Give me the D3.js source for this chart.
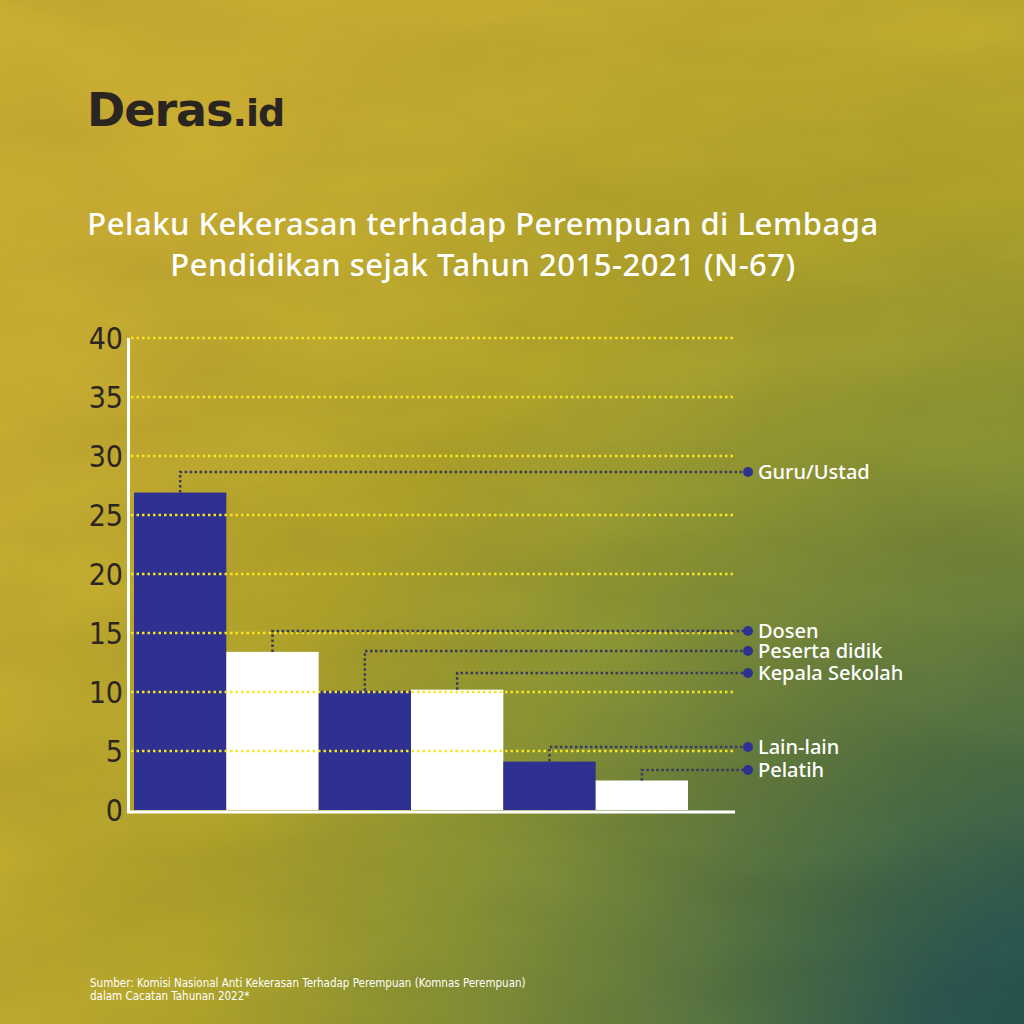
<!DOCTYPE html>
<html>
<head>
<meta charset="utf-8">
<script src="https://cdn.jsdelivr.net/npm/d3@7"></script>
<style>
  body { margin: 0; padding: 0; }
  svg { display: block; }
</style>
</head>
<body>
<script>
'use strict';

// chart data
const categories = ["Guru/Ustad", "Dosen", "Peserta didik", "Kepala Sekolah", "Lain-lain", "Pelatih"];
const values = [26.9, 13.4, 10.1, 10.2, 4.1, 2.5];
const barColors = ["#2e3190", "#ffffff", "#2e3190", "#ffffff", "#2e3190", "#ffffff"];
const labelY = [472, 631, 651, 673, 747, 770]; // leader label rows
const yTicks = [0, 5, 10, 15, 20, 25, 30, 35, 40];

const titleLines = [
  "Pelaku Kekerasan terhadap Perempuan di Lembaga",
  "Pendidikan sejak Tahun 2015-2021 (N-67)"
];
const sourceLines = [
  "Sumber: Komisi Nasional Anti Kekerasan Terhadap Perempuan (Komnas Perempuan)",
  "dalam Cacatan Tahunan 2022*"
];

const font = "'Noto Sans', 'Open Sans', sans-serif";
const narrow = "'DejaVu Sans Condensed', 'DejaVu Sans', sans-serif";

const svg = d3.select('body')
  .append('svg')
  .attr('width', 1024)
  .attr('height', 1024);

// background: yellow paper turning teal toward the lower right
const defs = svg.append('defs');
const grad = defs.append('radialGradient')
  .attr('id', 'bg')
  .attr('gradientUnits', 'userSpaceOnUse')
  .attr('cx', 1070).attr('cy', 1070).attr('r', 1250);
[["0", "#23504f"], ["0.12", "#2e5a52"], ["0.3", "#5b7842"], ["0.5", "#8d9736"], ["0.7", "#b6a92c"], ["1", "#d0b334"]]
  .forEach(s => grad.append('stop').attr('offset', s[0]).attr('stop-color', s[1]));

const filt = defs.append('filter').attr('id', 'paper');
filt.append('feTurbulence')
  .attr('type', 'fractalNoise')
  .attr('baseFrequency', '0.004 0.012')
  .attr('numOctaves', 4)
  .attr('seed', 7);
filt.append('feColorMatrix')
  .attr('values', '0 0 0 0 0  0 0 0 0 0  0 0 0 0 0  0 0 0 0.1 0');

svg.append('rect').attr('width', 1024).attr('height', 1024).attr('fill', 'url(#bg)');
svg.append('rect').attr('width', 1024).attr('height', 1024).attr('filter', 'url(#paper)');

// logo
const logo = svg.append('text')
  .attr('x', 87)
  .attr('y', 126)
  .style('font-family', "'DejaVu Sans', sans-serif")
  .style('font-weight', 'bold')
  .style('font-size', '46px')
  .style('letter-spacing', '-1px')
  .attr('fill', '#2b2522');
logo.append('tspan').text('Deras');
logo.append('tspan').style('font-size', '38px').text('.id');

// title
svg.selectAll('.title')
  .data(titleLines)
  .enter()
  .append('text')
  .attr('class', 'title')
  .attr('x', 483)
  .attr('y', (d, i) => 235 + i * 41)
  .attr('text-anchor', 'middle')
  .style('font-family', font)
  .style('font-weight', 500)
  .style('font-size', '31px')
  .style('letter-spacing', '0.5px')
  .attr('fill', '#ffffff')
  .text(d => d);

// scales
const x = d3.scaleBand()
  .domain(categories)
  .range([134, 688])
  .padding(0);

const y = d3.scaleLinear()
  .domain([0, 40])
  .range([810, 338]);

// bars
svg.selectAll('.bar')
  .data(categories)
  .enter()
  .append('rect')
  .attr('class', 'bar')
  .attr('x', d => x(d))
  .attr('y', (d, i) => y(values[i]))
  .attr('width', x.bandwidth())
  .attr('height', (d, i) => y(0) - y(values[i]))
  .attr('fill', (d, i) => barColors[i]);

// dotted gridlines drawn over the bars
svg.selectAll('.grid')
  .data(yTicks.filter(t => t > 0))
  .enter()
  .append('line')
  .attr('class', 'grid')
  .attr('x1', 131)
  .attr('x2', 735)
  .attr('y1', d => y(d))
  .attr('y2', d => y(d))
  .attr('stroke', '#f7e620')
  .attr('stroke-width', 2.5)
  .attr('stroke-dasharray', '2.5 3');

// y axis labels
const yAxis = d3.axisLeft(y).tickValues(yTicks).tickSize(0).tickPadding(0);
const yg = svg.append('g')
  .attr('transform', 'translate(123, 0)')
  .call(yAxis);
yg.select('.domain').remove();
yg.selectAll('text')
  .style('font-family', narrow)
  .style('font-size', '30px')
  .attr('fill', '#2d2620')
  .attr('dy', '0.36em');

// axis lines
svg.append('line')
  .attr('x1', 128.5).attr('x2', 128.5)
  .attr('y1', y(40)).attr('y2', 813)
  .attr('stroke', '#ffffff').attr('stroke-width', 3);
svg.append('line')
  .attr('x1', 127).attr('x2', 735)
  .attr('y1', 812).attr('y2', 812)
  .attr('stroke', '#ffffff').attr('stroke-width', 3);

// leader lines and labels
const leaders = svg.append('g');
categories.forEach((c, i) => {
  const cx = x(c) + x.bandwidth() / 2;
  const top = y(values[i]);
  leaders.append('path')
    .attr('d', `M${cx},${top}V${labelY[i]}H744`)
    .attr('fill', 'none')
    .attr('stroke', '#3a3a5c')
    .attr('stroke-width', 2.5)
    .attr('stroke-dasharray', '2.5 2.5');
  leaders.append('circle')
    .attr('cx', 748)
    .attr('cy', labelY[i])
    .attr('r', 5)
    .attr('fill', '#2e3190');
  leaders.append('text')
    .attr('x', 758)
    .attr('y', labelY[i])
    .attr('dy', '0.34em')
    .style('font-family', font)
    .style('font-weight', 500)
    .style('font-size', '20px')
    .attr('fill', '#ffffff')
    .text(c);
});

// source note
svg.selectAll('.source')
  .data(sourceLines)
  .enter()
  .append('text')
  .attr('class', 'source')
  .attr('x', 90)
  .attr('y', (d, i) => 987 + i * 13)
  .style('font-family', narrow)
  .style('font-size', '11.5px')
  .attr('fill', '#ffffff')
  .text(d => d);
</script>
</body>
</html>
